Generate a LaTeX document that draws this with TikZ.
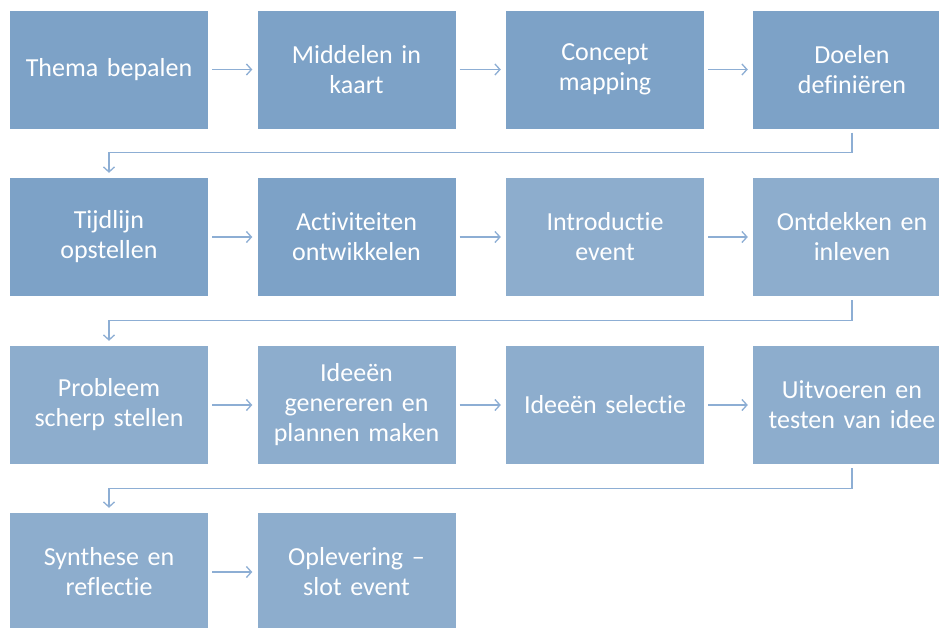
\documentclass[tikz,border=0pt]{standalone}
\usepackage{fontspec}
\setmainfont{Carlito}[RawFeature={-liga;-clig;-dlig}]
\usetikzlibrary{arrows.meta}
\definecolor{stepdark}{HTML}{7DA2C7}
\definecolor{steplight}{HTML}{8DADCD}
\definecolor{flowline}{HTML}{8DAED4}

\begin{document}
\begin{tikzpicture}[x=1pt,y=-1pt,
  stepbox/.style={fill=#1, text=white, minimum width=198pt, minimum height=118pt,
    text width=190pt, align=center, inner sep=0pt,
    font=\fontsize{26}{30}\selectfont},
  flow/.style={draw=flowline, line width=1.3pt, -{Straight Barb[length=5pt,width=11pt]}}]
\clip (0,0) rectangle (939,627);
\fill[white] (0,0) rectangle (939,627);
 \node[stepbox=stepdark] (s1) at (109,69.5) {Thema bepalen};
 \node[stepbox=stepdark] (s2) at (356.5,69.5) {Middelen in\\kaart};
 \node[stepbox=stepdark] (s3) at (605,69.5) {Concept\\mapping};
 \node[stepbox=stepdark] (s4) at (852,69.5) {Doelen\\definiëren};
 \node[stepbox=stepdark] (s5) at (109,237) {Tijdlijn\\opstellen};
 \node[stepbox=stepdark] (s6) at (356.5,237) {Activiteiten\\ontwikkelen};
 \node[stepbox=steplight] (s7) at (605,237) {Introductie\\event};
 \node[stepbox=steplight] (s8) at (852,237) {Ontdekken en\\inleven};
 \node[stepbox=steplight] (s9) at (109,405) {Probleem\\scherp stellen};
 \node[stepbox=steplight] (s10) at (356.5,405) {Ideeën\\genereren en\\plannen maken};
 \node[stepbox=steplight] (s11) at (605,405) {Ideeën selectie};
 \node[stepbox=steplight] (s12) at (852,405) {Uitvoeren en\\testen van idee};
 \node[stepbox=steplight] (s13) at (109,572) {Synthese en\\reflectie};
 \node[stepbox=steplight] (s14) at (356.5,572) {Oplevering --\\slot event};
 % pijlen per rij
 \foreach \a/\b in {s1/s2,s2/s3,s3/s4,s5/s6,s6/s7,s7/s8,s9/s10,s10/s11,s11/s12,s13/s14}
  \draw[flow, shorten <=4pt, shorten >=5pt] (\a) -- (\b);
 % terug naar begin van volgende rij
 \foreach \a/\b in {s4/s5,s8/s9,s12/s13}
  \draw[flow, shorten <=4pt, shorten >=5pt]
    (\a.south) -- ++(0,24) -| (\b.north);
\end{tikzpicture}
\end{document}
